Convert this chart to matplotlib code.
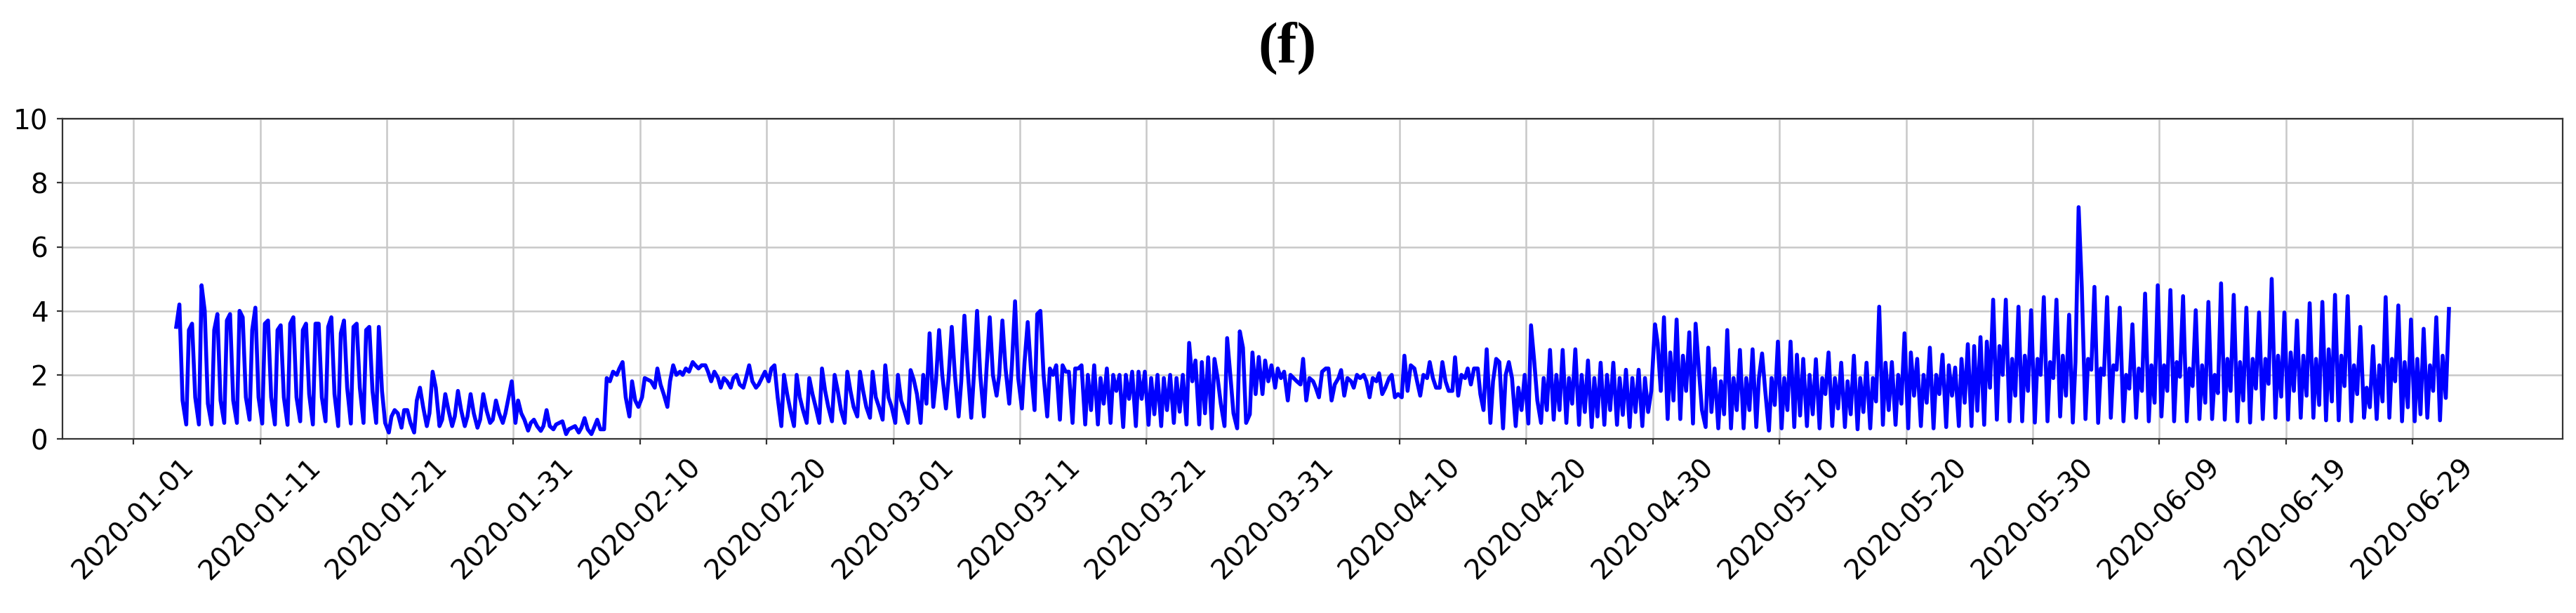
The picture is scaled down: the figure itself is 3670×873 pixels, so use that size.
import numpy as np
import pandas as pd
import matplotlib
matplotlib.use("Agg")
import matplotlib.pyplot as plt

nan = np.nan

# values, four per day (at 04, 09, 15 and 21 h)
hours = [4, 9, 15, 21]
first_day = "2020-01-04"

jan = [
    [nan, 3.5, 4.2, 1.2], [0.45, 3.4, 3.6, 1.3], [0.45, 4.8, 4.0, 1.1], [0.45, 3.4, 3.9, 1.2],
    [0.5, 3.7, 3.9, 1.2], [0.5, 4.0, 3.8, 1.3], [0.6, 3.4, 4.1, 1.3], [0.48, 3.6, 3.7, 1.3],
    [0.45, 3.4, 3.55, 1.3], [0.44, 3.6, 3.8, 1.3], [0.55, 3.4, 3.6, 1.4], [0.45, 3.6, 3.6, 1.3],
    [0.55, 3.5, 3.8, 1.4], [0.4, 3.3, 3.7, 1.6], [0.48, 3.5, 3.6, 1.6], [0.5, 3.4, 3.5, 1.5],
    [0.5, 3.5, 1.5, 0.5], [0.2, 0.7, 0.9, 0.8], [0.35, 0.9, 0.9, 0.5], [0.2, 1.2, 1.6, 1.0],
    [0.4, 0.8, 2.1, 1.6], [0.4, 0.6, 1.4, 0.9], [0.4, 0.7, 1.5, 0.9], [0.4, 0.7, 1.4, 0.8],
    [0.35, 0.6, 1.4, 0.9], [0.5, 0.6, 1.2, 0.8], [0.5, 0.8, 1.3, 1.8], [0.5, 1.2, 0.8, 0.6],
]
feb = [
    [0.26, 0.5, 0.6, 0.4], [0.25, 0.4, 0.9, 0.4], [0.3, 0.45, 0.5, 0.55], [0.15, 0.3, 0.35, 0.4],
    [0.2, 0.35, 0.65, 0.3], [0.15, 0.35, 0.6, 0.3], [0.3, 1.9, 1.8, 2.1], [2.0, 2.2, 2.4, 1.3],
    [0.7, 1.8, 1.2, 1.0], [1.3, 1.9, 1.85, 1.8], [1.6, 2.2, 1.7, 1.4], [1.0, 1.8, 2.3, 2.0],
    [2.1, 2.0, 2.2, 2.1], [2.4, 2.3, 2.2, 2.3], [2.3, 2.1, 1.8, 2.1], [1.9, 1.6, 1.9, 1.8],
    [1.6, 1.9, 2.0, 1.7], [1.6, 1.9, 2.3, 1.8], [1.6, 1.7, 1.9, 2.1], [1.8, 2.2, 2.3, 1.3],
    [0.4, 2.0, 1.4, 0.9], [0.4, 2.0, 1.3, 0.9], [0.5, 1.9, 1.4, 1.0], [0.5, 2.2, 1.5, 1.0],
    [0.55, 2.0, 1.5, 0.9], [0.5, 2.1, 1.5, 1.0], [0.7, 2.1, 1.5, 1.0], [0.66, 2.1, 1.3, 1.0],
    [0.6, 2.3, 1.3, 1.0],
]
mar = [
    [0.5, 2.0, 1.2, 0.9], [0.5, 2.15, 1.85, 1.4], [0.5, 2.0, 1.1, 3.3], [1.0, 1.8, 3.4, 2.0],
    [0.95, 1.9, 3.5, 2.0], [0.7, 1.8, 3.85, 2.2], [0.66, 2.0, 4.0, 2.0], [0.7, 2.2, 3.8, 2.0],
    [1.35, 2.0, 3.7, 2.2], [1.1, 2.3, 4.3, 1.9], [0.95, 2.4, 3.65, 2.2], [0.9, 3.9, 4.0, 2.0],
    [0.7, 2.2, 2.0, 2.3], [0.6, 2.3, 2.1, 2.1], [0.5, 2.2, 2.2, 2.3], [0.45, 2.0, 0.9, 2.3],
    [0.45, 1.9, 1.1, 2.2], [0.5, 2.0, 1.5, 2.0], [0.37, 2.0, 1.25, 2.1], [0.4, 2.1, 1.25, 2.1],
    [0.44, 1.9, 0.77, 2.0], [0.4, 1.9, 0.9, 2.0], [0.5, 1.9, 0.85, 2.0], [0.45, 3.0, 1.8, 2.45],
    [0.45, 2.4, 0.8, 2.55], [0.33, 2.5, 1.9, 1.1], [0.4, 3.15, 2.0, 0.8], [0.33, 3.36, 2.85, 0.5],
    [0.77, 2.7, 1.4, 2.56], [1.4, 2.45, 1.8, 2.3], [1.6, 2.2, 1.9, 2.1],
]
apr = [
    [1.2, 2.0, 1.9, 1.8], [1.7, 2.5, 1.2, 1.9], [1.8, 1.6, 1.3, 2.1], [2.2, 2.2, 1.2, 1.7],
    [1.9, 2.15, 1.35, 1.9], [1.8, 1.6, 2.0, 1.9], [2.0, 1.8, 1.3, 1.9], [1.8, 2.05, 1.4, 1.6],
    [1.9, 2.0, 1.3, 1.4], [1.3, 2.6, 1.5, 2.3], [2.2, 1.8, 1.35, 2.0], [1.9, 2.4, 1.9, 1.6],
    [1.6, 2.4, 1.8, 1.5], [1.5, 2.55, 1.35, 2.0], [1.9, 2.2, 1.7, 2.2], [2.2, 1.4, 0.9, 2.8],
    [0.5, 1.8, 2.5, 2.4], [0.33, 2.0, 2.4, 1.9], [0.4, 1.6, 0.9, 2.0], [0.48, 3.55, 2.45, 1.2],
    [0.5, 1.9, 0.9, 2.78], [0.6, 2.0, 0.9, 2.78], [0.5, 1.9, 1.1, 2.8], [0.44, 2.0, 0.84, 2.45],
    [0.37, 1.9, 0.7, 2.38], [0.44, 2.0, 0.9, 2.38], [0.44, 1.9, 0.75, 2.16], [0.37, 1.9, 0.84, 2.16],
    [0.4, 1.9, 0.84, 1.5], [3.58, 3.0, 1.5, 3.8],
]
may = [
    [0.62, 2.7, 1.2, 3.73], [0.62, 2.6, 1.5, 3.33], [0.48, 3.6, 2.2, 0.9], [0.37, 2.85, 0.84, 2.2],
    [0.33, 1.8, 0.77, 3.4], [0.33, 1.9, 0.9, 2.78], [0.33, 1.9, 0.9, 2.8], [0.37, 1.9, 2.67, 1.5],
    [0.26, 1.9, 1.06, 3.04], [0.33, 1.9, 0.9, 3.04], [0.37, 2.63, 0.73, 2.5], [0.4, 2.0, 0.77, 2.49],
    [0.33, 1.9, 1.4, 2.7], [0.4, 1.9, 0.95, 2.38], [0.37, 1.8, 0.77, 2.6], [0.3, 1.9, 0.84, 2.38],
    [0.33, 1.9, 1.17, 4.13], [0.44, 2.38, 0.9, 2.4], [0.44, 2.0, 1.1, 3.3], [0.33, 2.7, 1.35, 2.5],
    [0.4, 2.0, 1.13, 2.85], [0.33, 2.0, 1.4, 2.63], [0.37, 2.3, 1.35, 2.23], [0.4, 2.5, 1.13, 2.96],
    [0.4, 2.9, 0.88, 3.18], [0.44, 3.04, 1.6, 4.35], [0.6, 2.9, 2.0, 4.35], [0.55, 2.5, 1.35, 4.13],
    [0.55, 2.6, 1.5, 4.02], [0.51, 2.5, 2.0, 4.43], [0.55, 2.4, 1.9, 4.35],
]
jun = [
    [0.7, 2.6, 1.35, 3.88], [0.51, 2.4, 7.24, 4.75], [0.62, 2.5, 2.16, 4.75], [0.5, 2.2, 2.0, 4.43],
    [0.66, 2.3, 2.16, 4.1], [0.55, 2.0, 1.57, 3.58], [0.66, 2.2, 1.5, 4.54], [0.55, 2.3, 1.13, 4.8],
    [0.7, 2.3, 1.5, 4.65], [0.55, 2.4, 1.94, 4.46], [0.55, 2.2, 1.65, 4.02], [0.62, 2.3, 1.13, 4.28],
    [0.62, 2.0, 1.43, 4.86], [0.6, 2.5, 1.5, 4.5], [0.55, 2.4, 1.2, 4.1], [0.51, 2.5, 1.57, 3.95],
    [0.62, 2.5, 1.72, 5.0], [0.66, 2.6, 1.32, 3.95], [0.6, 2.7, 1.5, 3.7], [0.66, 2.6, 1.35, 4.24],
    [0.66, 2.5, 1.06, 4.28], [0.58, 2.8, 1.17, 4.5], [0.58, 2.6, 1.65, 4.46], [0.55, 2.3, 1.4, 3.5],
    [0.66, 1.6, 0.99, 2.9], [0.62, 2.3, 1.17, 4.43], [0.66, 2.5, 1.8, 4.17], [0.55, 2.4, 0.99, 3.73],
    [0.55, 2.5, 0.77, 3.44], [0.66, 2.3, 1.5, 3.8],
]
jul = [
    [0.58, 2.6, 1.28, 4.06],
]

tick_labels = [
    "2020-01-01", "2020-01-11", "2020-01-21", "2020-01-31", "2020-02-10",
    "2020-02-20", "2020-03-01", "2020-03-11", "2020-03-21", "2020-03-31",
    "2020-04-10", "2020-04-20", "2020-04-30", "2020-05-10", "2020-05-20",
    "2020-05-30", "2020-06-09", "2020-06-19", "2020-06-29",
]

rows = jan + feb + mar + apr + may + jun + jul
days = pd.date_range(first_day, periods=len(rows), freq="D")

t = []
y = []
for day, row in zip(days, rows):
    for h, v in zip(hours, row):
        if not np.isnan(v):
            t.append(day + pd.Timedelta(hours=h))
            y.append(v)
t = pd.DatetimeIndex(t).values

fig = plt.figure(figsize=(36.7, 8.73), dpi=100)
ax = fig.add_axes([0.0243, 0.284, 0.9705, 0.5222])

ax.plot(t, y, color="blue", linewidth=4)

ax.set_ylim(0, 10)
ax.set_yticks([0, 2, 4, 6, 8, 10])
ax.set_xticks(pd.to_datetime(tick_labels).values)
ax.set_xticklabels(tick_labels, rotation=45)

ax.grid(True, color="#c8c8c8", linewidth=1.8)
ax.tick_params(labelsize=28, length=6, width=1.6, color="#333333", pad=9)
for s in ax.spines.values():
    s.set_linewidth(1.6)
    s.set_color("#333333")

fig.text(0.4997, 0.899, "(f)", family="Liberation Serif", weight="bold",
         size=60, ha="center", va="baseline")

fig.savefig("out.png", dpi=100)
